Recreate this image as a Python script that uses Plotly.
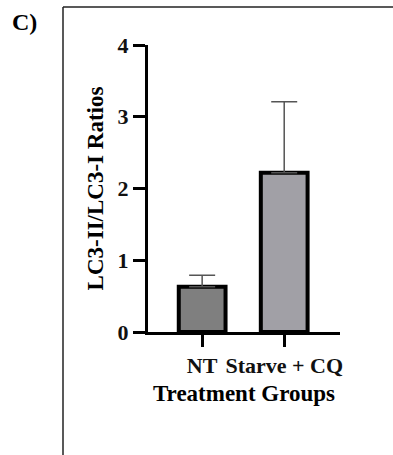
import plotly.graph_objects as go

categories = ["NT", "Starve + CQ"]
means = [0.63, 2.22]
errors_up = [0.16, 0.99]
bar_colors = ["#7f7f7f", "#a1a0a6"]
y_ticks = [0, 1, 2, 3, 4]

FONT = "Liberation Serif"

fig = go.Figure()
fig.add_trace(go.Bar(
    x=categories, y=means, width=0.57,
    marker=dict(color=bar_colors, line=dict(color="black", width=4)),
    error_y=dict(type="data", array=errors_up, arrayminus=[0, 0], symmetric=False,
                 color="#555555", thickness=1.5, width=13),
))

L, R, T, B = 148, 53, 45, 123
W, H = 393, 455
pw, ph = W - L - R, H - T - B


def px_x(px):
    return (px - L) / pw


def px_y(py):
    return (H - B - py) / ph


fig.update_layout(
    width=W, height=H,
    margin=dict(l=L, r=R, t=T, b=B),
    plot_bgcolor="white", paper_bgcolor="white",
    showlegend=False,
    font=dict(family=FONT, size=22, color="black"),
    xaxis=dict(range=[-0.66, 1.68], showline=True, linecolor="black", linewidth=3,
               ticks="outside", ticklen=12, tickwidth=2.5, tickcolor="black",
               showgrid=False, zeroline=False,
               tickfont=dict(family=FONT, size=22, color="#111", weight="bold"),
               title=dict(text="Treatment Groups",
                          font=dict(family=FONT, size=23, weight="bold"), standoff=8)),
    yaxis=dict(range=[0, 4], tickvals=y_ticks, showline=True, linecolor="black", linewidth=3,
               ticks="outside", ticklen=12, tickwidth=2.5, tickcolor="black",
               showgrid=False, zeroline=False,
               tickfont=dict(family=FONT, size=22, color="#111", weight="bold"),
               title=dict(text="LC3-II/LC3-I Ratios",
                          font=dict(family=FONT, size=23, weight="bold"), standoff=8)),
)

# frame border (left and top edges)
fig.add_shape(type="line", xref="paper", yref="paper", x0=px_x(63), x1=px_x(63),
              y0=px_y(460), y1=px_y(7), line=dict(color="#222", width=1.5))
fig.add_shape(type="line", xref="paper", yref="paper", x0=px_x(63), x1=px_x(398),
              y0=px_y(7), y1=px_y(7), line=dict(color="#222", width=1.5))

fig.add_annotation(text="<b>C)</b>", xref="paper", yref="paper",
                   x=px_x(24), y=px_y(22), xanchor="center", yanchor="middle",
                   showarrow=False, font=dict(family=FONT, size=24, color="black"))

fig.write_html("out.html")
